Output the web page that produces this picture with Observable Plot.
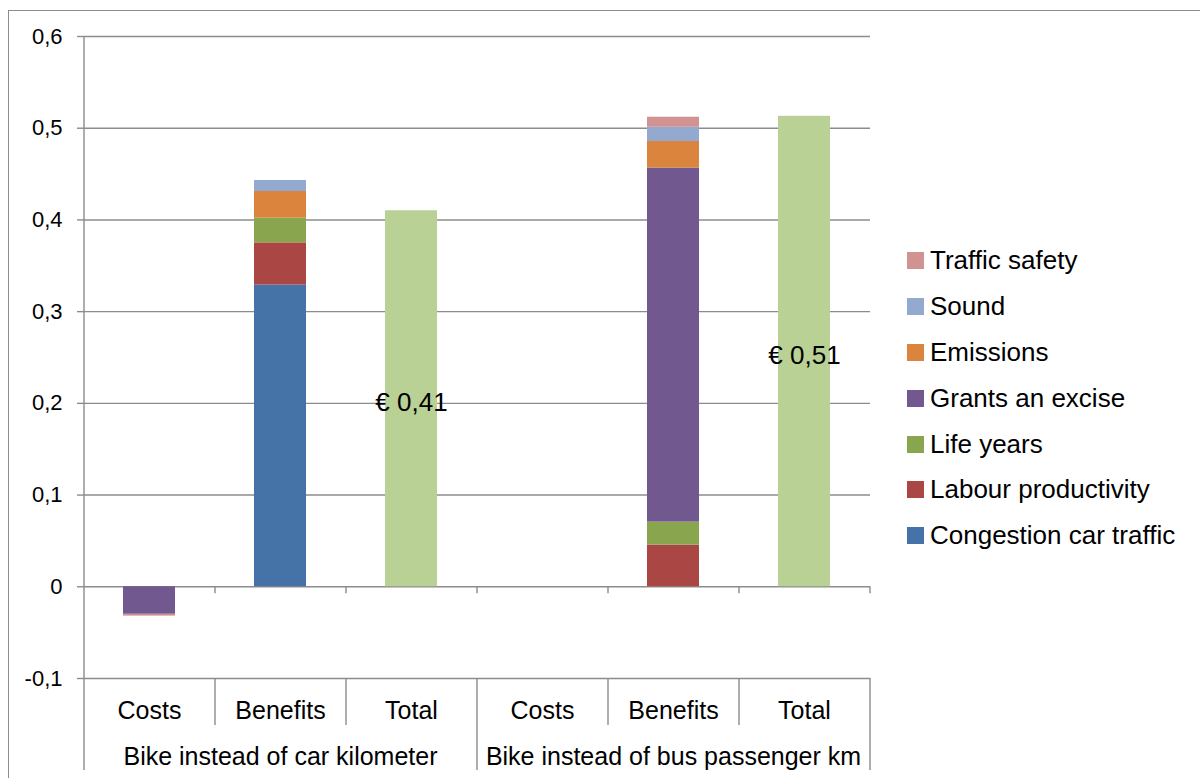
<!DOCTYPE html>
<html><head><meta charset="utf-8">
<script src="https://cdn.jsdelivr.net/npm/d3@7"></script>
<script src="https://cdn.jsdelivr.net/npm/@observablehq/plot@0.6"></script>
<style>
body{margin:0;background:#fff;font-family:"Liberation Sans",Arial,sans-serif;}
#wrap{position:relative;width:1200px;height:778px;overflow:hidden;background:#fff;}
#border{position:absolute;left:8px;top:10px;width:1300px;height:900px;border:1.5px solid #8c8c8c;box-sizing:border-box;pointer-events:none}
#chart{position:absolute;left:0;top:0;}
#legend{position:absolute;left:907px;top:238px;}
.item{display:flex;align-items:center;height:45.8px;font-size:26px;color:#000;white-space:nowrap}
.sw{width:17px;height:17px;margin-right:6px;flex:none}
</style></head><body>
<div id="wrap"><div id="border"></div><div id="chart"></div><div id="legend"></div></div>
<script>
// ---- data ----
const groups = ["Bike instead of car kilometer", "Bike instead of bus passenger km"];
const categories = ["Costs", "Benefits", "Total"];
const series = ["Congestion car traffic", "Labour productivity", "Life years", "Grants an excise", "Emissions", "Sound", "Traffic safety"];
const seriesColors = ["#4572A7", "#AA4643", "#89A54E", "#71588F", "#DB843D", "#93A9CF", "#D19392"];
const carCosts     = [0, 0, 0, -0.030, 0, 0, -0.002];
const carBenefits  = [0.329, 0.046, 0.027, 0, 0.029, 0.012, 0];
const busCosts     = [0, 0, 0, 0, 0, 0, 0];
const busBenefits  = [0, 0.0455, 0.025, 0.386, 0.029, 0.0155, 0.011];
const totals       = [0.41, 0.513];
const totalLabels  = ["€ 0,41", "€ 0,51"];
const totalColor   = "#B9D195";
const yTicks       = [-0.1, 0, 0.1, 0.2, 0.3, 0.4, 0.5, 0.6];
const yTickLabels  = ["-0,1", "0", "0,1", "0,2", "0,3", "0,4", "0,5", "0,6"];

// ---- tables built from the arrays ----
const keys = groups.flatMap(g => categories.map(c => g + "|" + c));
const valuesByKey = {
  [groups[0] + "|Costs"]: carCosts,
  [groups[0] + "|Benefits"]: carBenefits,
  [groups[1] + "|Costs"]: busCosts,
  [groups[1] + "|Benefits"]: busBenefits
};
const stackData = [];
for (const k of Object.keys(valuesByKey)) {
  valuesByKey[k].forEach((v, i) => { if (v !== 0) stackData.push({key: k, series: series[i], value: v}); });
}
const totalData = groups.map((g, i) => ({key: g + "|Total", value: totals[i], label: totalLabels[i]}));

const gridColor = "#8c8c8c";
const groupStarts = groups.map(g => g + "|Costs");
const innerStarts = keys.filter(k => !k.endsWith("|Costs"));
const lastKey = keys[keys.length - 1];

const plot = Plot.plot({
  width: 1200,
  height: 778,
  marginLeft: 84,
  marginRight: 330,
  marginTop: 36,
  marginBottom: 100,
  style: {fontFamily: "'Liberation Sans', Arial, sans-serif", fontSize: "22px", color: "#000", background: "transparent", overflow: "visible"},
  x: {type: "band", domain: keys, paddingInner: 0.6, paddingOuter: 0.3, axis: null},
  y: {domain: [-0.1, 0.6], axis: null},
  color: {domain: series, range: seriesColors},
  marks: [
    Plot.ruleY(yTicks, {stroke: gridColor, strokeWidth: 1.4}),
    Plot.axisY(yTicks, {tickSize: 7, tickPadding: 15, stroke: gridColor, strokeWidth: 1.4, fontSize: 22, label: null,
      tickFormat: d => yTickLabels[yTicks.findIndex(t => Math.abs(t - d) < 1e-9)]}),
    // left axis line (extends down through the category labels)
    Plot.ruleX([keys[0]], {x: d => d, dx: -65.5, stroke: gridColor, strokeWidth: 1.4, insetBottom: -92}),
    // group separators below the plot
    Plot.ruleX(groupStarts.slice(1), {x: d => d, dx: -65.5, stroke: gridColor, strokeWidth: 1.4, insetTop: 642, insetBottom: -92}),
    Plot.ruleX([lastKey], {x: d => d, dx: 65.5, stroke: gridColor, strokeWidth: 1.4, insetTop: 642, insetBottom: -92}),
    // category separators below the plot
    Plot.ruleX(innerStarts.filter(k => !groupStarts.includes(k)), {x: d => d, dx: -65.5, stroke: gridColor, strokeWidth: 1.4, insetTop: 642, insetBottom: -47}),
    // small ticks under the zero line
    Plot.ruleX(keys.slice(1), {x: d => d, y1: 0, y2: 0, dx: -65.5, stroke: gridColor, strokeWidth: 1.4, insetBottom: -7}),
    Plot.ruleX([lastKey], {x: d => d, y1: 0, y2: 0, dx: 65.5, stroke: gridColor, strokeWidth: 1.4, insetBottom: -7}),
    // bars
    Plot.barY(stackData, {x: "key", y: "value", fill: "series"}),
    Plot.barY(totalData, {x: "key", y: "value", fill: totalColor}),
    Plot.text(totalData, Plot.stackY({x: "key", y: "value", text: "label", fontSize: 26, dy: 4, fill: "#000"})),
    // category labels
    Plot.text(keys, {x: d => d, text: d => d.split("|")[1], frameAnchor: "bottom", dy: 40, fontSize: 25, fill: "#000"}),
    Plot.text(groups, {x: g => g + "|Benefits", text: d => d, frameAnchor: "bottom", dy: 86, fontSize: 25, fill: "#000"})
  ]
});
document.getElementById("chart").appendChild(plot);

// legend
const legend = document.getElementById("legend");
series.slice().reverse().forEach(s => {
  const it = document.createElement("div");
  it.className = "item";
  const sw = document.createElement("span");
  sw.className = "sw";
  sw.style.background = seriesColors[series.indexOf(s)];
  const tx = document.createElement("span");
  tx.textContent = s;
  it.appendChild(sw); it.appendChild(tx);
  legend.appendChild(it);
});
</script>
</body></html>
